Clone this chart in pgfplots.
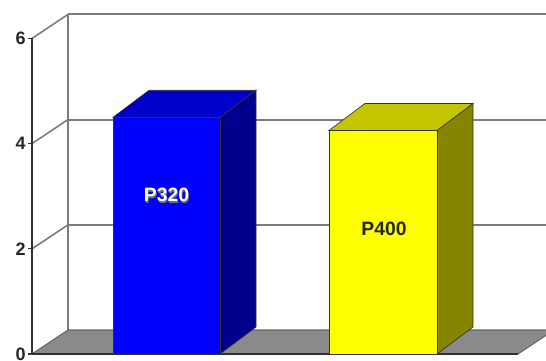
\documentclass[border=0pt]{standalone}
\usepackage{pgfplots}
\pgfplotsset{compat=1.18}
\usepackage{fontspec}
\setmainfont{Liberation Sans}

% bar faces
\definecolor{blueFront}{HTML}{0000FF}
\definecolor{blueSide}{HTML}{00008C}
\definecolor{blueTop}{HTML}{0000CC}
\definecolor{yelFront}{HTML}{FFFF00}
\definecolor{yelSide}{HTML}{858500}
\definecolor{yelTop}{HTML}{C4C400}
% walls and floor
\definecolor{floorGray}{HTML}{8A8A8A}
\definecolor{gridGray}{HTML}{7C7C7C}
\definecolor{axisDark}{HTML}{303030}

\begin{document}
\begin{tikzpicture}
% values of the two columns
\def\valA{4.5}   % P320
\def\valB{4.25}  % P400
% depth of the walls and of the columns (x in px, y in value units)
\def\wdx{36}\def\wdy{0.456}
\def\bdx{36}\def\bdy{0.513}
\pgfmathsetmacro\topA{\valA+\bdy}
\pgfmathsetmacro\topB{\valB+\bdy}
\begin{axis}[
    x=0.75pt, y=39.45pt,
    xmin=32, xmax=546, ymin=0, ymax=6.73,
    clip=false,
    hide x axis,
    axis y line*=left,
    y axis line style={draw=none},
    ytick={0,2,4,6},
    tick align=outside,
    major tick length=3pt,
    ytick style={draw=axisDark, line width=1pt},
    /pgf/number format/assume math mode=true,
    yticklabel style={font=\fontsize{13.5}{15}\selectfont\bfseries, text=black!85, inner sep=1.5pt},
]
% back wall top edge and gridlines
\addplot[gridGray, line width=1.5pt] coordinates {(68,6.456) (560,6.456)};
\addplot[gridGray, line width=1.5pt] coordinates {(68,4.456) (560,4.456)};
\addplot[gridGray, line width=1.5pt] coordinates {(68,2.456) (560,2.456)};
% back wall left edge
\addplot[gridGray, line width=1.5pt] coordinates {(68,0.456) (68,6.456)};
% side wall gridlines
\addplot[gridGray, line width=1.2pt] coordinates {(32,6) (68,6.456)};
\addplot[gridGray, line width=1.2pt] coordinates {(32,4) (68,4.456)};
\addplot[gridGray, line width=1.2pt] coordinates {(32,2) (68,2.456)};
% floor
\addplot[fill=floorGray, draw=black!60, line width=0.8pt] coordinates {(32,0) (518,0) (554,0.456) (68,0.456)} -- cycle;
\addplot[axisDark, line width=1.5pt] coordinates {(32,0) (518,0)};
% front value axis
\addplot[axisDark, line width=1.6pt] coordinates {(32,0) (32,6)};

% column P320
\addplot[fill=blueSide, draw=black!80, line width=0.5pt] coordinates {(220,0) (256,\bdy) (256,\topA) (220,\valA)} -- cycle;
\addplot[fill=blueTop, draw=black!80, line width=0.5pt] coordinates {(113,\valA) (220,\valA) (256,\topA) (149,\topA)} -- cycle;
\addplot[fill=blueFront, draw=black!80, line width=0.5pt] coordinates {(113,0) (220,0) (220,\valA) (113,\valA)} -- cycle;

% column P400
\addplot[fill=yelSide, draw=black!80, line width=0.5pt] coordinates {(437,0) (473,\bdy) (473,\topB) (437,\valB)} -- cycle;
\addplot[fill=yelTop, draw=black!80, line width=0.5pt] coordinates {(329,\valB) (437,\valB) (473,\topB) (365,\topB)} -- cycle;
\addplot[fill=yelFront, draw=black!80, line width=0.5pt] coordinates {(329,0) (437,0) (437,\valB) (329,\valB)} -- cycle;

% column names
\node[font=\fontsize{14.5}{16}\selectfont\bfseries, text=black!55] at (axis cs:167.3,2.995) {P320};
\node[font=\fontsize{14.5}{16}\selectfont\bfseries, text=white] at (axis cs:166.5,3.02) {P320};
\node[font=\fontsize{14.5}{16}\selectfont\bfseries, text=black!85] at (axis cs:384,2.38) {P400};

% page frame
\coordinate (pageSW) at (axis cs:0,-0.133);
\coordinate (pageNE) at (axis cs:546,6.73);
\end{axis}
\pgfresetboundingbox
\path (pageSW) rectangle (pageNE);
\end{tikzpicture}
\end{document}
